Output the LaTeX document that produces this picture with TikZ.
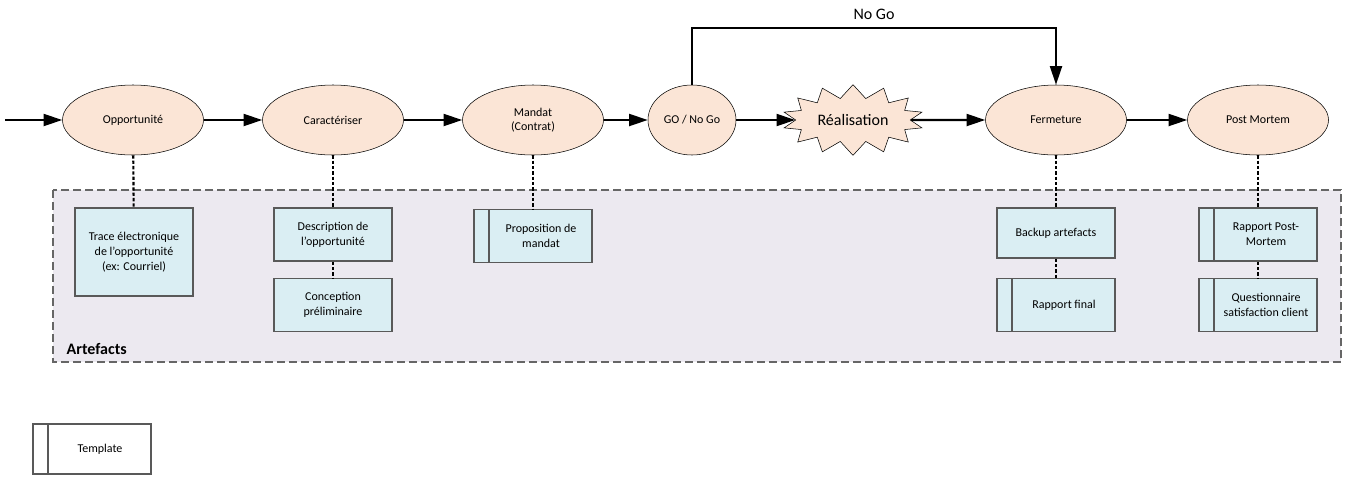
\documentclass[tikz,border=0pt]{standalone}
\usepackage{fontspec}
\setmainfont{Carlito}
\usepackage{tikz}
\usetikzlibrary{arrows.meta,shapes.geometric,shapes.symbols}

\definecolor{phasefill}{HTML}{FBE5D6}
\definecolor{artfill}{HTML}{DAEEF3}
\definecolor{zonefill}{HTML}{ECE9F0}
\definecolor{boxline}{HTML}{595959}

\tikzset{
  phase/.style={ellipse,draw,fill=phasefill,minimum width=105.75pt,minimum height=52.5pt,
    inner sep=0pt,align=center,font=\fontsize{9}{11}\selectfont},
  flow/.style={line width=1.6pt,-{Triangle[length=14pt,width=9pt]}},
  link/.style={line width=1.6pt,dash pattern=on 2.5pt off 1.5pt},
  artefact/.style={rectangle,draw=boxline,line width=1pt,fill=artfill,minimum width=88.5pt,
    minimum height=39.75pt,inner sep=1pt,align=center,font=\fontsize{9}{11}\selectfont},
  tmpl/.style={artefact,path picture={\draw[boxline,line width=1pt]
    ([xshift=11.25pt]path picture bounding box.north west) --
    ([xshift=11.25pt]path picture bounding box.south west);}},
}

\begin{document}
\begin{tikzpicture}[x=0.75pt,y=-0.75pt]
    \useasboundingbox (0,0) rectangle (1345,476);

    % zone des artefacts
    \draw[gray!80!black,line width=0.8pt,dash pattern=on 6pt off 3pt,fill=zonefill]
        (53,190) rectangle (1341,362);
    \node[anchor=west,font=\fontsize{12}{14}\selectfont\bfseries] (zone) at (62,349) {Artefacts};

    % phases
    \coordinate (start) at (5,120);
    \node[phase] (opp) at (133,120) {Opportunit\'e};
    \node[phase] (car) at (333,120) {Caract\'eriser};
    \node[phase] (man) at (533,120) {Mandat\\(Contrat)};
    \node[phase,minimum width=66pt] (go) at (692,120) {GO / No Go};
    \node[starburst,draw,fill=phasefill,starburst points=14,starburst point height=10pt,
        random starburst=0,minimum width=106pt,minimum height=53pt,inner sep=0pt,
        font=\fontsize{12}{14}\selectfont] (real) at (853,120) {R\'ealisation};
    \node[phase] (fer) at (1056,120) {Fermeture};
    \node[phase] (pm) at (1258,120) {Post Mortem};

    \draw[flow] (start) -- (opp);
    \draw[flow] (opp) -- (car);
    \draw[flow] (car) -- (man);
    \draw[flow] (man) -- (go);
    \draw[flow] (go) -- (real);
    \draw[flow] (real) -- (fer);
    \draw[flow] (fer) -- (pm);
    \draw[flow] (go.north) -- ++(0,-57) -| node[pos=0.25,above=2pt,font=\fontsize{12}{14}\selectfont] {No Go} (fer.north);

    % artefacts
    \node[artefact,minimum height=66pt] (trace) at (134,252) {Trace \'electronique\\de l'opportunit\'e\\(ex: Courriel)};
    \node[artefact] (desc) at (333,234.5) {Description de\\l'opportunit\'e};
    \node[artefact] (conc) at (333,305) {Conception\\pr\'eliminaire};
    \node[tmpl] (prop) at (533,236) {\hspace*{12pt}Proposition de\\\hspace*{12pt}mandat};
    \node[artefact,minimum height=37.5pt] (back) at (1056,233) {Backup artefacts};
    \node[tmpl] (rfin) at (1056,305) {\hspace*{12pt}Rapport final};
    \node[tmpl] (rpm) at (1258,234.5) {\hspace*{12pt}Rapport Post-\\\hspace*{12pt}Mortem};
    \node[tmpl] (quest) at (1258,305) {\hspace*{12pt}Questionnaire\\\hspace*{12pt}satisfaction client};

    \draw[link] (opp) -- (trace);
    \draw[link] (car) -- (desc);
    \draw[link] (desc) -- (conc);
    \draw[link] (man) -- (prop);
    \draw[link] (fer) -- (back);
    \draw[link] (back) -- (rfin);
    \draw[link] (pm) -- (rpm);
    \draw[link] (rpm) -- (quest);

    % legende
    \node[tmpl,fill=white,minimum height=37.5pt] (legend) at (92,449) {\hspace*{12pt}Template};
\end{tikzpicture}
\end{document}
